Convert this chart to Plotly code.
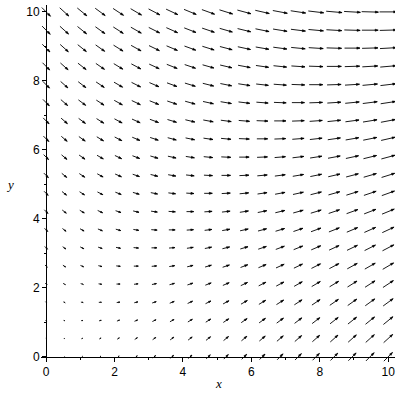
import numpy as np
import plotly.graph_objects as go

# Grid positions (20 x 20, from 0 to 10)
x_vals = [0.00, 0.53, 1.05, 1.58, 2.11, 2.63, 3.16, 3.68, 4.21, 4.74,
          5.26, 5.79, 6.32, 6.84, 7.37, 7.89, 8.42, 8.95, 9.47, 10.00]
y_vals = [0.00, 0.53, 1.05, 1.58, 2.11, 2.63, 3.16, 3.68, 4.21, 4.74,
          5.26, 5.79, 6.32, 6.84, 7.37, 7.89, 8.42, 8.95, 9.47, 10.00]

# Horizontal components (rows = y from bottom to top), in grid-step units
U = [
    [0, 1, 2, 3, 4, 5, 6, 7, 8, 9, 10, 11, 12, 13, 14, 15, 16, 17, 18, 19],
    [1, 2, 3, 4, 5, 6, 7, 8, 9, 10, 11, 12, 13, 14, 15, 16, 17, 18, 19, 20],
    [2, 3, 4, 5, 6, 7, 8, 9, 10, 11, 12, 13, 14, 15, 16, 17, 18, 19, 20, 21],
    [3, 4, 5, 6, 7, 8, 9, 10, 11, 12, 13, 14, 15, 16, 17, 18, 19, 20, 21, 22],
    [4, 5, 6, 7, 8, 9, 10, 11, 12, 13, 14, 15, 16, 17, 18, 19, 20, 21, 22, 23],
    [5, 6, 7, 8, 9, 10, 11, 12, 13, 14, 15, 16, 17, 18, 19, 20, 21, 22, 23, 24],
    [6, 7, 8, 9, 10, 11, 12, 13, 14, 15, 16, 17, 18, 19, 20, 21, 22, 23, 24, 25],
    [7, 8, 9, 10, 11, 12, 13, 14, 15, 16, 17, 18, 19, 20, 21, 22, 23, 24, 25, 26],
    [8, 9, 10, 11, 12, 13, 14, 15, 16, 17, 18, 19, 20, 21, 22, 23, 24, 25, 26, 27],
    [9, 10, 11, 12, 13, 14, 15, 16, 17, 18, 19, 20, 21, 22, 23, 24, 25, 26, 27, 28],
    [10, 11, 12, 13, 14, 15, 16, 17, 18, 19, 20, 21, 22, 23, 24, 25, 26, 27, 28, 29],
    [11, 12, 13, 14, 15, 16, 17, 18, 19, 20, 21, 22, 23, 24, 25, 26, 27, 28, 29, 30],
    [12, 13, 14, 15, 16, 17, 18, 19, 20, 21, 22, 23, 24, 25, 26, 27, 28, 29, 30, 31],
    [13, 14, 15, 16, 17, 18, 19, 20, 21, 22, 23, 24, 25, 26, 27, 28, 29, 30, 31, 32],
    [14, 15, 16, 17, 18, 19, 20, 21, 22, 23, 24, 25, 26, 27, 28, 29, 30, 31, 32, 33],
    [15, 16, 17, 18, 19, 20, 21, 22, 23, 24, 25, 26, 27, 28, 29, 30, 31, 32, 33, 34],
    [16, 17, 18, 19, 20, 21, 22, 23, 24, 25, 26, 27, 28, 29, 30, 31, 32, 33, 34, 35],
    [17, 18, 19, 20, 21, 22, 23, 24, 25, 26, 27, 28, 29, 30, 31, 32, 33, 34, 35, 36],
    [18, 19, 20, 21, 22, 23, 24, 25, 26, 27, 28, 29, 30, 31, 32, 33, 34, 35, 36, 37],
    [19, 20, 21, 22, 23, 24, 25, 26, 27, 28, 29, 30, 31, 32, 33, 34, 35, 36, 37, 38],
]

# Vertical components (rows = y from bottom to top), in grid-step units
V = [
    [0, 1, 2, 3, 4, 5, 6, 7, 8, 9, 10, 11, 12, 13, 14, 15, 16, 17, 18, 19],
    [-1, 0, 1, 2, 3, 4, 5, 6, 7, 8, 9, 10, 11, 12, 13, 14, 15, 16, 17, 18],
    [-2, -1, 0, 1, 2, 3, 4, 5, 6, 7, 8, 9, 10, 11, 12, 13, 14, 15, 16, 17],
    [-3, -2, -1, 0, 1, 2, 3, 4, 5, 6, 7, 8, 9, 10, 11, 12, 13, 14, 15, 16],
    [-4, -3, -2, -1, 0, 1, 2, 3, 4, 5, 6, 7, 8, 9, 10, 11, 12, 13, 14, 15],
    [-5, -4, -3, -2, -1, 0, 1, 2, 3, 4, 5, 6, 7, 8, 9, 10, 11, 12, 13, 14],
    [-6, -5, -4, -3, -2, -1, 0, 1, 2, 3, 4, 5, 6, 7, 8, 9, 10, 11, 12, 13],
    [-7, -6, -5, -4, -3, -2, -1, 0, 1, 2, 3, 4, 5, 6, 7, 8, 9, 10, 11, 12],
    [-8, -7, -6, -5, -4, -3, -2, -1, 0, 1, 2, 3, 4, 5, 6, 7, 8, 9, 10, 11],
    [-9, -8, -7, -6, -5, -4, -3, -2, -1, 0, 1, 2, 3, 4, 5, 6, 7, 8, 9, 10],
    [-10, -9, -8, -7, -6, -5, -4, -3, -2, -1, 0, 1, 2, 3, 4, 5, 6, 7, 8, 9],
    [-11, -10, -9, -8, -7, -6, -5, -4, -3, -2, -1, 0, 1, 2, 3, 4, 5, 6, 7, 8],
    [-12, -11, -10, -9, -8, -7, -6, -5, -4, -3, -2, -1, 0, 1, 2, 3, 4, 5, 6, 7],
    [-13, -12, -11, -10, -9, -8, -7, -6, -5, -4, -3, -2, -1, 0, 1, 2, 3, 4, 5, 6],
    [-14, -13, -12, -11, -10, -9, -8, -7, -6, -5, -4, -3, -2, -1, 0, 1, 2, 3, 4, 5],
    [-15, -14, -13, -12, -11, -10, -9, -8, -7, -6, -5, -4, -3, -2, -1, 0, 1, 2, 3, 4],
    [-16, -15, -14, -13, -12, -11, -10, -9, -8, -7, -6, -5, -4, -3, -2, -1, 0, 1, 2, 3],
    [-17, -16, -15, -14, -13, -12, -11, -10, -9, -8, -7, -6, -5, -4, -3, -2, -1, 0, 1, 2],
    [-18, -17, -16, -15, -14, -13, -12, -11, -10, -9, -8, -7, -6, -5, -4, -3, -2, -1, 0, 1],
    [-19, -18, -17, -16, -15, -14, -13, -12, -11, -10, -9, -8, -7, -6, -5, -4, -3, -2, -1, 0],
]

x_ticks = [0, 2, 4, 6, 8, 10]
y_ticks = [0, 2, 4, 6, 8, 10]
x_minor = [1, 3, 5, 7, 9]
y_minor = [1, 3, 5, 7, 9]

XR = [-0.15, 10.2]
YR = [-0.15, 10.2]

X, Y = np.meshgrid(np.array(x_vals), np.array(y_vals))
Ua = np.array(U, dtype=float)
Va = np.array(V, dtype=float)
mag = np.hypot(Ua, Va)
step = x_vals[1] - x_vals[0]
scale = 0.95 * step / mag.max()
dx = Ua * scale
dy = Va * scale

sx, sy, hx, hy = [], [], [], []
for r in range(X.shape[0]):
    for c in range(X.shape[1]):
        L = np.hypot(dx[r, c], dy[r, c])
        if L < 1e-9:
            continue
        x0 = X[r, c] - dx[r, c] / 2
        y0 = Y[r, c] - dy[r, c] / 2
        x1 = X[r, c] + dx[r, c] / 2
        y1 = Y[r, c] + dy[r, c] / 2
        sx += [x0, x1, None]
        sy += [y0, y1, None]
        ux, uy = dx[r, c] / L, dy[r, c] / L
        hl = min(0.09, 0.4 * L)
        hw = hl * 0.33
        bx, by = x1 - ux * hl, y1 - uy * hl
        px, py = -uy, ux
        hx += [x1, bx + px * hw, bx - px * hw, x1, None]
        hy += [y1, by + py * hw, by - py * hw, y1, None]

fig = go.Figure()
fig.add_trace(go.Scatter(x=sx, y=sy, mode="lines",
                         line=dict(color="black", width=0.9),
                         hoverinfo="skip", showlegend=False))
fig.add_trace(go.Scatter(x=hx, y=hy, mode="lines", fill="toself",
                         fillcolor="black",
                         line=dict(color="black", width=0.6),
                         hoverinfo="skip", showlegend=False))

tickfont = dict(family="Liberation Sans Narrow, Liberation Sans, Arial, sans-serif",
                size=12, color="black")

fig.update_layout(
    width=400, height=400,
    margin=dict(l=41, r=5, t=5, b=38, pad=0, autoexpand=False),
    paper_bgcolor="white", plot_bgcolor="white",
    xaxis=dict(range=XR, showgrid=False, zeroline=False, automargin=False,
               showline=True, linecolor="black", linewidth=1,
               anchor="free", position=(0 - YR[0]) / (YR[1] - YR[0]),
               tickvals=x_ticks, ticktext=[str(t) for t in x_ticks],
               ticks="outside", ticklen=4, tickcolor="black", tickwidth=1,
               minor=dict(tickvals=x_minor, ticks="outside", ticklen=2,
                          tickcolor="black"),
               tickfont=tickfont),
    yaxis=dict(range=YR, showgrid=False, zeroline=False, automargin=False,
               showline=True, linecolor="black", linewidth=1,
               anchor="free", position=(0 - XR[0]) / (XR[1] - XR[0]),
               tickvals=y_ticks, ticktext=[str(t) for t in y_ticks],
               ticks="outside", ticklen=4, tickcolor="black", tickwidth=1,
               minor=dict(tickvals=y_minor, ticks="outside", ticklen=2,
                          tickcolor="black"),
               tickfont=tickfont),
    annotations=[
        dict(text="<i>x</i>", xref="paper", yref="paper", x=0.5, y=-0.059,
             showarrow=False, xanchor="center", yanchor="middle",
             font=dict(family="Liberation Serif, Times New Roman, serif",
                       size=13, color="black")),
        dict(text="<i>y</i>", xref="paper", yref="paper", x=-0.088, y=0.496,
             showarrow=False, xanchor="center", yanchor="middle",
             font=dict(family="Liberation Serif, Times New Roman, serif",
                       size=13, color="black")),
    ],
)

fig.write_html("out.html",
               config={"displayModeBar": False, "staticPlot": True},
               post_script="document.body.style.margin='0';"
                           "document.body.style.overflow='hidden';")
